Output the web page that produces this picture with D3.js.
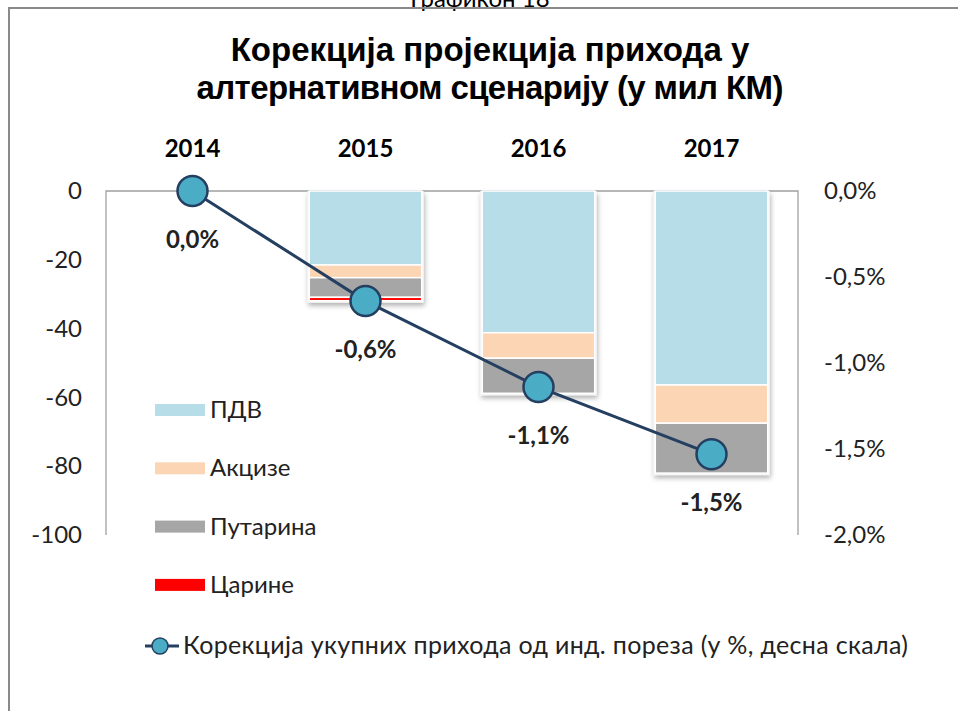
<!DOCTYPE html>
<html>
<head>
<meta charset="utf-8">
<script src="https://cdn.jsdelivr.net/npm/d3@7"></script>
<style>
  body { margin: 0; background: #fff; }
  svg { display: block; }
</style>
</head>
<body>
<div id="chart"></div>
<script>
// data (mil KM and %)
const years = ["2014", "2015", "2016", "2017"];
const pdv = [0, -21.5, -41.2, -56.4];
const akcize = [0, -3.7, -7.4, -11.1];
const putarina = [0, -5.7, -10.2, -14.5];
const carine = [0, -1.0, 0, 0];
const korekcija = [0, -0.64, -1.14, -1.53];
const leftTicks = [0, -20, -40, -60, -80, -100];
const rightTicks = [0, -0.5, -1.0, -1.5, -2.0];

const seriesNames = ["ПДВ", "Акцизе", "Путарина", "Царине"];
const colors = ["#b7dde8", "#fcd5b5", "#a6a6a6", "#ff0000"];
const lineName = "Корекција укупних прихода од инд. пореза (у %, десна скала)";

const W = 958, H = 711;
const plot = { left: 106, right: 798, top: 191, bottom: 535 };
const bodyFont = "Lato, 'Open Sans', sans-serif";
const fs = "24px";

const svg = d3.select("#chart").append("svg")
  .attr("width", W).attr("height", H);

// shadow for bars
const defs = svg.append("defs");
const f = defs.append("filter").attr("id", "shadow")
  .attr("x", "-20%").attr("y", "-20%").attr("width", "140%").attr("height", "140%");
f.append("feDropShadow").attr("dx", 1).attr("dy", 3).attr("stdDeviation", 2.5)
  .attr("flood-color", "#000").attr("flood-opacity", 0.3);

// outer frame + caption (cut at the top like in the original)
svg.append("text")
  .attr("x", 480).attr("y", 7)
  .attr("text-anchor", "middle")
  .style("font-family", bodyFont).style("font-size", fs)
  .text("Графикон 18");
svg.append("rect")
  .attr("x", 9).attr("y", 8).attr("width", W).attr("height", H)
  .attr("fill", "none").attr("stroke", "#8a8a8a").attr("stroke-width", 2);

// title
const title = svg.append("text")
  .attr("text-anchor", "middle")
  .style("font-family", "'Liberation Sans', Arial, sans-serif")
  .style("font-weight", "bold").style("font-size", "33px").attr("fill", "#000");
title.append("tspan").attr("x", 490).attr("y", 61).text("Корекција пројекција прихода у");
title.append("tspan").attr("x", 490).attr("y", 99).attr("textLength", 587)
  .text("алтернативном сценарију (у мил КМ)");

// scales
const x = d3.scaleBand().domain(years)
  .range([plot.left, plot.right]).paddingInner(0.35).paddingOuter(0.175);
const y = d3.scaleLinear().domain([-100, 0]).range([plot.bottom, plot.top]);
const y2 = d3.scaleLinear().domain([-2, 0]).range([plot.bottom, plot.top]);

// plot frame (top, left, right)
svg.append("path")
  .attr("d", `M${plot.left},${plot.bottom}V${plot.top}H${plot.right}V${plot.bottom}`)
  .attr("fill", "none").attr("stroke", "#a0a0a0").attr("stroke-width", 1.3);

// left axis labels
svg.append("g").attr("transform", `translate(${plot.left - 24},0)`)
  .call(d3.axisLeft(y).tickValues(leftTicks).tickSize(0).tickPadding(0).tickFormat(d => String(d)))
  .call(g => g.select(".domain").remove())
  .selectAll("text")
  .style("font-family", bodyFont).style("font-size", fs).attr("fill", "#222");

// right axis labels
const pct = d => d3.format(".1f")(d).replace(".", ",").replace("−", "-") + "%";
svg.append("g").attr("transform", `translate(${plot.right + 26},0)`)
  .call(d3.axisRight(y2).tickValues(rightTicks).tickSize(0).tickPadding(0).tickFormat(pct))
  .call(g => g.select(".domain").remove())
  .selectAll("text")
  .style("font-family", bodyFont).style("font-size", fs).attr("fill", "#222");

// year labels on top
svg.append("g").selectAll("text")
  .data(years).join("text")
  .attr("x", d => x(d) + x.bandwidth() / 2)
  .attr("y", 157)
  .attr("text-anchor", "middle")
  .style("font-family", bodyFont).style("font-weight", "bold")
  .style("font-size", fs).attr("fill", "#000")
  .text(d => d);

// stacked bars
const rows = years.map((yr, i) => ({
  year: yr, "ПДВ": pdv[i], "Акцизе": akcize[i], "Путарина": putarina[i], "Царине": carine[i]
}));
const stacked = d3.stack().keys(seriesNames).offset(d3.stackOffsetDiverging)(rows);
const totals = years.map((yr, i) => pdv[i] + akcize[i] + putarina[i] + carine[i]);

// shadow backing
svg.append("g").selectAll("rect")
  .data(years.filter((yr, i) => totals[i] < 0))
  .join("rect")
  .attr("x", d => x(d) - 2)
  .attr("y", plot.top)
  .attr("width", x.bandwidth() + 4)
  .attr("height", d => y(totals[years.indexOf(d)]) - plot.top + 2)
  .attr("fill", "#f4f4f4")
  .attr("filter", "url(#shadow)");

svg.append("g").selectAll("g")
  .data(stacked)
  .join("g")
  .attr("fill", (d, i) => colors[i])
  .selectAll("rect")
  .data(d => d.filter(s => s[0] !== s[1]))
  .join("rect")
  .attr("x", d => x(d.data.year))
  .attr("y", d => y(d[1]))
  .attr("width", x.bandwidth())
  .attr("height", d => y(d[0]) - y(d[1]))
  .attr("stroke", "#fff").attr("stroke-width", 1.5);

// line
const linePts = years.map((yr, i) => ({ year: yr, v: korekcija[i] }));
svg.append("path")
  .datum(linePts)
  .attr("fill", "none").attr("stroke", "#243f60").attr("stroke-width", 3)
  .attr("d", d3.line().x(d => x(d.year) + x.bandwidth() / 2).y(d => y2(d.v)));

svg.append("g").selectAll("circle")
  .data(linePts).join("circle")
  .attr("cx", d => x(d.year) + x.bandwidth() / 2)
  .attr("cy", d => y2(d.v))
  .attr("r", 15)
  .attr("fill", "#4bacc6").attr("stroke", "#243f60").attr("stroke-width", 2.5);

svg.append("g").selectAll("text")
  .data(linePts).join("text")
  .attr("x", d => x(d.year) + x.bandwidth() / 2)
  .attr("y", d => y2(d.v) + 57)
  .attr("text-anchor", "middle")
  .style("font-family", bodyFont).style("font-weight", "bold").style("font-size", fs)
  .attr("fill", "#222")
  .text(d => pct(d.v));

// legend
const legend = svg.append("g").attr("transform", "translate(155,410)");
seriesNames.forEach((name, i) => {
  legend.append("rect")
    .attr("x", 0).attr("y", i * 58.3 - 6)
    .attr("width", 50).attr("height", 12)
    .attr("fill", colors[i]);
  legend.append("text")
    .attr("x", 55).attr("y", i * 58.3 + 8)
    .style("font-family", bodyFont).style("font-size", fs).attr("fill", "#222")
    .text(name);
});

const lineLegend = svg.append("g").attr("transform", "translate(145,646)");
lineLegend.append("line")
  .attr("x1", 0).attr("x2", 34).attr("y1", 0).attr("y2", 0)
  .attr("stroke", "#243f60").attr("stroke-width", 3);
lineLegend.append("circle")
  .attr("cx", 15).attr("cy", 0).attr("r", 8)
  .attr("fill", "#4bacc6").attr("stroke", "#243f60").attr("stroke-width", 1.5);
lineLegend.append("text")
  .attr("x", 38).attr("y", 8)
  .attr("textLength", 725)
  .style("font-family", bodyFont).style("font-size", "25px").attr("fill", "#222")
  .text(lineName);
</script>
</body>
</html>
